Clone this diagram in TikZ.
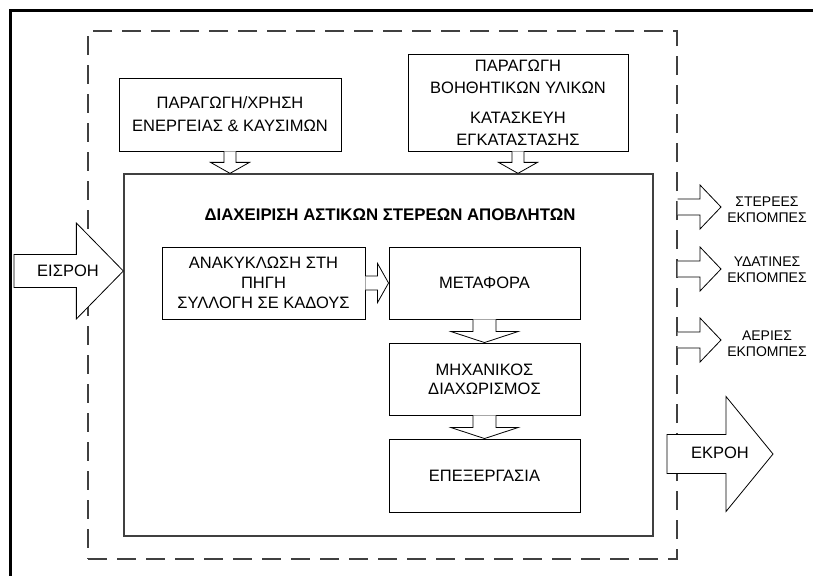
\documentclass[tikz,border=0pt]{standalone}
\usepackage{fontspec}
\setmainfont{Liberation Sans}
\usetikzlibrary{calc}
\newcommand\fmain{\fontsize{16.5}{20}\selectfont}
\newcommand\fsmall{\fontsize{14}{16}\selectfont}
% vertical block arrow: #1 start, #2 tip, #3 shaft half width, #4 head half width, #5 head length
\newcommand\blkdown[5]{%
  \draw[blk] let \p1=(#1), \p2=(#2) in
    (\x2-#3,\y1) -- (\x2-#3,\y2+#5) -- (\x2-#4,\y2+#5) -- (\x2,\y2)
    -- (\x2+#4,\y2+#5) -- (\x2+#3,\y2+#5) -- (\x2+#3,\y1);}
% horizontal block arrow: #1 start, #2 tip, #3 shaft hw, #4 head hw, #5 head length, #6 closing
\newcommand\blkright[6]{%
  \draw[blk] let \p1=(#1), \p2=(#2) in
    (\x1,\y2+#3) -- (\x2-#5,\y2+#3) -- (\x2-#5,\y2+#4) -- (\x2,\y2)
    -- (\x2-#5,\y2-#4) -- (\x2-#5,\y2-#3) -- (\x1,\y2-#3) #6;}
\begin{document}
\begin{tikzpicture}[x=1pt,y=-1pt,
  box/.style={draw=black,line width=0.9pt,inner sep=0pt,align=center,font=\fmain},
  sysbox/.style={draw=black!75,line width=1.3pt,dash pattern=on 19pt off 10pt,inner sep=0pt},
  mainbox/.style={draw=black!75,line width=1.3pt,inner sep=0pt},
  blk/.style={draw=black,line width=0.8pt,fill=white,line join=miter},
  lbl/.style={align=center,inner sep=0pt,font=\fsmall},
  txt/.style={align=center,inner sep=0pt,font=\fmain}]
\useasboundingbox (0,0) rectangle (813,576);
\fill[white] (0,0) rectangle (813,576);
% outer frame
\draw[line width=2.6pt] (813,10.5) -- (10.5,10.5) -- (10.5,576);
% system boundary and main box
\node[sysbox,minimum width=589,minimum height=528] (sys) at (382.5,295) {};
\node[mainbox,minimum width=529,minimum height=362] (main) at (388.5,355) {};
\node[txt,font={\fontsize{16.8}{20}\selectfont\bfseries}] (title) at (390,215) {ΔΙΑΧΕΙΡΙΣΗ ΑΣΤΙΚΩΝ ΣΤΕΡΕΩΝ ΑΠΟΒΛΗΤΩΝ};
% top boxes
\node[box,minimum width=222,minimum height=73,font={\fontsize{16.5}{23}\selectfont}] (b1) at (230,114.5)
  {ΠΑΡΑΓΩΓΗ/ΧΡΗΣΗ\\ΕΝΕΡΓΕΙΑΣ \& ΚΑΥΣΙΜΩΝ};
\node[box,minimum width=220,minimum height=97,font={\fontsize{16.5}{22}\selectfont}] (b2) at (518,102.5)
  {ΠΑΡΑΓΩΓΗ\\ΒΟΗΘΗΤΙΚΩΝ ΥΛΙΚΩΝ\\[8pt]ΚΑΤΑΣΚΕΥΗ\\ΕΓΚΑΤΑΣΤΑΣΗΣ};
% inner boxes
\node[box,minimum width=203,minimum height=72] (b3) at (263.5,283)
  {ΑΝΑΚΥΚΛΩΣΗ ΣΤΗ\\ΠΗΓΗ\\ΣΥΛΛΟΓΗ ΣΕ ΚΑΔΟΥΣ};
\node[box,minimum width=191,minimum height=72] (b4) at (484.5,283) {ΜΕΤΑΦΟΡΑ};
\node[box,minimum width=191,minimum height=72,font={\fontsize{16.5}{19}\selectfont}] (b5) at (484.5,379)
  {ΜΗΧΑΝΙΚΟΣ\\ΔΙΑΧΩΡΙΣΜΟΣ};
\node[box,minimum width=191,minimum height=73] (b6) at (484.5,475.5) {ΕΠΕΞΕΡΓΑΣΙΑ};
% block arrows between boxes
\blkdown{b1.south}{main.north -| b1.south}{6pt}{19.5pt}{11pt}
\blkdown{b2.south}{main.north -| b2.south}{6pt}{19.5pt}{11pt}
\blkright{b3.east}{b4.west}{7pt}{19.5pt}{11pt}{}
\blkdown{b4.south}{b5.north}{11.5pt}{33.5pt}{11pt}
\blkdown{b5.south}{b6.north}{11.5pt}{33.5pt}{11pt}
% input
\coordinate (inS) at (14,271);
\blkright{inS}{main.west |- inS}{16.5pt}{48pt}{47pt}{-- cycle}
\node[txt] (inlbl) at (68,271) {ΕΙΣΡΟΗ};
% emissions
\coordinate (e1) at (721,207);
\coordinate (e2) at (721,269);
\coordinate (e3) at (721,340);
\blkright{sys.east |- e1}{e1}{8pt}{22pt}{21pt}{}
\blkright{sys.east |- e2}{e2}{8pt}{22pt}{21pt}{}
\blkright{sys.east |- e3}{e3}{8pt}{22pt}{21pt}{}
\node[lbl] (l1) at (767,210) {ΣΤΕΡΕΕΣ\\ΕΚΠΟΜΠΕΣ};
\node[lbl] (l2) at (767,269.5) {ΥΔΑΤΙΝΕΣ\\ΕΚΠΟΜΠΕΣ};
\node[lbl] (l3) at (767,343.5) {ΑΕΡΙΕΣ\\ΕΚΠΟΜΠΕΣ};
% output
\coordinate (outS) at (667,454);
\coordinate (outT) at (773,454);
\blkright{outS}{outT}{19.5pt}{57.5pt}{47pt}{-- cycle}
\node[txt] (outlbl) at (720,453) {ΕΚΡΟΗ};
\end{tikzpicture}
\end{document}
